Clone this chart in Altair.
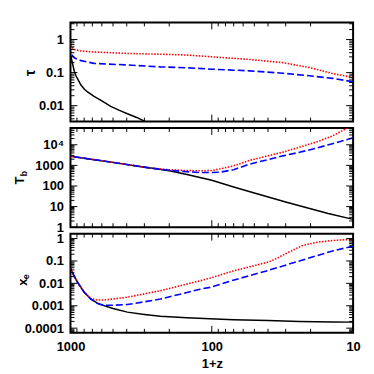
import altair as alt
import pandas as pd

# ---------------- data ----------------
# optical depth tau
Z_TAU_BLACK = [1000, 980, 965, 940, 915, 890, 843, 800, 757, 681, 600, 519, 450, 396, 340, 300, 280]
TAU_BLACK = [0.34, 0.24, 0.18, 0.11, 0.08, 0.065, 0.042, 0.032, 0.026, 0.019, 0.014, 0.0095, 0.0072, 0.0057, 0.0044, 0.0034, 0.0029]
Z_TAU = [1000, 980, 940, 843, 681, 396, 231, 150, 100, 54, 31.4, 20.4, 14, 10]
TAU_RED = [0.72, 0.6, 0.5, 0.45, 0.42, 0.38, 0.36, 0.34, 0.30, 0.25, 0.20, 0.142, 0.094, 0.071]
TAU_BLUE = [0.45, 0.35, 0.28, 0.23, 0.19, 0.17, 0.149, 0.14, 0.127, 0.113, 0.096, 0.08, 0.067, 0.053]

# gas temperature T_b
Z_TB_BLACK = [1000, 700, 500, 300, 250, 200, 150, 100, 70, 50, 30, 20, 15, 10]
TB_BLACK = [2800, 1950, 1400, 820, 690, 545, 360, 190, 90, 46, 16.6, 7.8, 4.6, 2.4]
Z_TB_RED = [1000, 700, 500, 300, 250, 200, 150, 120, 100, 87, 70, 54, 40, 31.4, 24, 18.3, 14, 11.3, 10]
TB_RED = [2800, 1950, 1400, 820, 705, 610, 560, 545, 565, 680, 950, 1750, 2900, 4400, 7600, 13400, 27000, 59000, 85000]
Z_TB_BLUE = [1000, 700, 500, 300, 250, 200, 150, 120, 100, 87, 70, 54, 40, 31.4, 24, 18.3, 14, 10]
TB_BLUE = [2800, 1950, 1400, 820, 695, 580, 490, 450, 450, 470, 620, 1150, 1900, 2900, 4300, 6800, 11300, 22000]

# ionised fraction x_e
Z_XE_BLACK = [1000, 945, 890, 800, 718, 644, 610, 500, 396, 300, 231, 150, 103, 70, 40, 24, 14, 10]
XE_BLACK = [0.047, 0.022, 0.011, 0.004, 0.002, 0.0013, 0.00112, 0.00075, 0.00052, 0.00041, 0.00034, 0.00029, 0.00026, 0.00024, 0.00022, 0.0002, 0.00019, 0.000186]
Z_XE_RED = [1000, 945, 890, 800, 718, 644, 579, 500, 396, 300, 231, 150, 121, 100, 70.6, 50, 41, 38.7, 34, 29.6, 26, 22.6, 18, 14, 12, 10]
XE_RED = [0.047, 0.022, 0.011, 0.004, 0.0021, 0.0018, 0.0018, 0.002, 0.0024, 0.0034, 0.0047, 0.0093, 0.013, 0.018, 0.036, 0.062, 0.085, 0.096, 0.14, 0.22, 0.33, 0.5, 0.68, 0.82, 0.87, 0.92]
Z_XE_BLUE = [1000, 945, 890, 800, 718, 644, 579, 500, 396, 300, 231, 150, 121, 103, 70.6, 41, 24, 14, 10]
XE_BLUE = [0.047, 0.022, 0.011, 0.004, 0.002, 0.00125, 0.00105, 0.00105, 0.00113, 0.0015, 0.002, 0.0039, 0.0055, 0.0066, 0.0138, 0.036, 0.1, 0.28, 0.46]

# axes
X_DOMAIN = [10, 1000]
X_LABEL_VALUES = [1000, 100, 10]
TAU_DOMAIN = [0.0033, 3.3]
TAU_LABEL_VALUES = [1, 0.1, 0.01]
TB_DOMAIN = [1, 65000]
TB_LABEL_VALUES = [10000, 1000, 100, 10, 1]
XE_DOMAIN = [0.000062, 1.66]
XE_LABEL_VALUES = [1, 0.1, 0.01, 0.001, 0.0001]
MINOR_MULT = [2, 3, 4, 5, 6, 7, 8, 9]
DECADES = [10.0 ** k for k in range(-5, 6)]

W, H = 285, 100
FONT = "Liberation Sans"
WEIGHT = "bold"
MAJ, MIN = 7, 4
PAD_L, PAD_T, PAD_R, PAD_B = 61.5, 12, 11.5, 36


def ticks(domain):
    lo, hi = domain
    major = [d for d in DECADES if lo <= d <= hi]
    minor = [m * d for d in DECADES for m in MINOR_MULT if lo <= m * d <= hi]
    return pd.DataFrame({"t": major}), pd.DataFrame({"t": minor})


def panel(series, ydomain, yvalues, label_expr, titles, show_x, spacer):
    xscale = alt.Scale(type="log", domain=X_DOMAIN, reverse=True)
    yscale = alt.Scale(type="log", domain=ydomain)
    if show_x:
        xaxis = alt.Axis(values=X_LABEL_VALUES, format="~g", title="1+z", grid=False,
                         ticks=False, tickSize=0, domain=False, labelFlush=False,
                         labelOverlap=False, labelPadding=8, titlePadding=4)
    else:
        xaxis = None
    yaxis_kw = dict(values=yvalues, format="~g", title=None, grid=False, ticks=False,
                    tickSize=0, domain=False, labelOverlap=False, labelPadding=7,
                    labelFlush=False)
    if label_expr:
        yaxis_kw["labelExpr"] = label_expr
    yaxis = alt.Axis(**yaxis_kw)

    layers = []
    for z, v, color, dash, width in series:
        df = pd.DataFrame({"z": z, "v": v})
        mk = dict(color=color, strokeWidth=width, clip=True)
        if dash:
            mk["strokeDash"] = dash
        layers.append(
            alt.Chart(df).mark_line(**mk).encode(
                x=alt.X("z:Q", scale=xscale, axis=xaxis),
                y=alt.Y("v:Q", scale=yscale, axis=yaxis),
                order="z:Q",
            )
        )
    xmaj, xmin = ticks(X_DOMAIN)
    ymaj, ymin = ticks(ydomain)
    for df, L in ((xmaj, MAJ), (xmin, MIN)):
        for y0, y1 in ((0, L), (H, H - L)):
            layers.append(
                alt.Chart(df).mark_rule(color="black", strokeWidth=1).encode(
                    x=alt.X("t:Q", scale=xscale, axis=xaxis),
                    y=alt.value(y0), y2=alt.value(y1))
            )
    for df, L in ((ymaj, MAJ), (ymin, MIN)):
        for x0, x1 in ((0, L), (W, W - L)):
            layers.append(
                alt.Chart(df).mark_rule(color="black", strokeWidth=1).encode(
                    y=alt.Y("t:Q", scale=yscale, axis=yaxis),
                    x=alt.value(x0), x2=alt.value(x1))
            )
    one = pd.DataFrame({"a": [0]})
    for txt, tx, ty, size in titles:
        layers.append(
            alt.Chart(one).mark_text(angle=270, align="center", baseline="middle",
                                     fontSize=size, font=FONT, fontWeight=WEIGHT,
                                     color="black").encode(
                x=alt.value(tx), y=alt.value(ty), text=alt.value(txt))
        )
    # invisible layout spacer fixing the outer margins
    sx0, sx1, sy0, sy1 = spacer
    layers.append(
        alt.Chart(one).mark_rule(opacity=0, strokeWidth=0.01).encode(
            x=alt.value(sx0), x2=alt.value(sx1), y=alt.value(sy0), y2=alt.value(sy1))
    )
    return alt.layer(*layers).properties(width=W, height=H)


BLACK, RED, BLUE = "#000000", "#ff0000", "#0000ff"
DOT, DASH = [1.5, 1.5], [7, 3]

p1 = panel(
    [(Z_TAU_BLACK, TAU_BLACK, BLACK, None, 1.5),
     (Z_TAU, TAU_RED, RED, DOT, 1.6),
     (Z_TAU, TAU_BLUE, BLUE, DASH, 1.6)],
    TAU_DOMAIN, TAU_LABEL_VALUES, None,
    [("τ", -39.5, 51, 14)], False,
    (-PAD_L, W + PAD_R, -PAD_T, 0))

p2 = panel(
    [(Z_TB_BLACK, TB_BLACK, BLACK, None, 1.5),
     (Z_TB_RED, TB_RED, RED, DOT, 1.6),
     (Z_TB_BLUE, TB_BLUE, BLUE, DASH, 1.6)],
    TB_DOMAIN, TB_LABEL_VALUES, "datum.value > 9999 ? '10⁴' : datum.label",
    [("T", -50.5, 53, 13), ("b", -46.5, 46, 9)], False,
    (-PAD_L, W + PAD_R, 0, H))

p3 = panel(
    [(Z_XE_BLACK, XE_BLACK, BLACK, None, 1.5),
     (Z_XE_RED, XE_RED, RED, DOT, 1.6),
     (Z_XE_BLUE, XE_BLUE, BLUE, DASH, 1.6)],
    XE_DOMAIN, XE_LABEL_VALUES, None,
    [("x", -48, 49, 13), ("e", -44.5, 43.5, 9)], True,
    (-PAD_L, W + PAD_R, H, H + PAD_B))

chart = alt.vconcat(p1, p2, p3, spacing=6.5, bounds="flush").properties(
    padding=0,
    background="white",
).configure_view(stroke="black", strokeWidth=2).configure_axis(
    labelFont=FONT, labelFontSize=13, labelColor="black", labelFontWeight=WEIGHT,
    titleFont=FONT, titleFontSize=13, titleColor="black", titleFontWeight=WEIGHT,
)

chart.save("out.html", embed_options={"renderer": "svg", "actions": False})
